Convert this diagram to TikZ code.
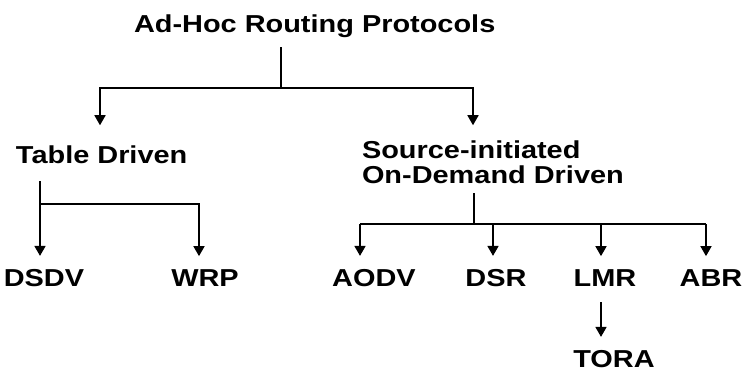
\documentclass[tikz,border=0pt]{standalone}
\usepackage{fontspec}
\setmainfont[FakeStretch=1.18]{Liberation Sans}
\usetikzlibrary{arrows.meta}
\begin{document}
\begin{tikzpicture}[x=1pt,y=-1pt,
  lbl/.style={inner sep=0pt,outer sep=0pt,font=\fontsize{24.5}{25}\selectfont\bfseries},
  ln/.style={line width=1.6pt,black},
  arr/.style={ln,-{Triangle[length=10pt,width=11pt]}}]
\useasboundingbox[fill=white] (0,0) rectangle (744,372);
% nodes
\node[lbl,anchor=base west] (title) at (134,32) {Ad-Hoc Routing Protocols};
\node[lbl,anchor=base west] (td) at (16,163) {Table Driven};
\node[lbl,anchor=base west] (src) at (362,158) {\vtop{\baselineskip=25pt\hbox{Source-initiated}\hbox{On-Demand Driven}}};
\node[lbl,anchor=base] (dsdv) at (44,286) {DSDV};
\node[lbl,anchor=base] (wrp) at (205,286) {WRP};
\node[lbl,anchor=base] (aodv) at (374,286) {AODV};
\node[lbl,anchor=base] (dsr) at (496,286) {DSR};
\node[lbl,anchor=base] (lmr) at (605,286) {LMR};
\node[lbl,anchor=base] (abr) at (711,286) {ABR};
\node[lbl,anchor=base] (tora) at (614,367) {TORA};
% junctions
\coordinate (j1) at (281,88);
\coordinate (ta) at (100,88);
\coordinate (sa) at (473,88);
\coordinate (j2) at (40,204);
\coordinate (b2) at (199,204);
\coordinate (j3) at (474,224);
\coordinate (c1) at (360,224);
\coordinate (c2) at (493,224);
\coordinate (c3) at (601,224);
\coordinate (c4) at (706,224);
% connectors
\draw[ln] ([yshift=-10pt]title.south -| j1) -- (j1);
\draw[arr] (j1) -- (ta) -- ([yshift=20pt]td.north -| ta);
\draw[arr] (j1) -- (sa) -- ([yshift=15pt]src.north -| sa);
\draw[ln] ([yshift=-18pt]td.south -| j2) -- (j2);
\draw[arr] (j2) -- ([yshift=13pt]dsdv.north -| j2);
\draw[arr] (j2) -- (b2) -- ([yshift=13pt]wrp.north -| b2);
\draw[ln] ([yshift=-10pt]src.south -| j3) -- (j3);
\draw[ln] (c1) -- (c4);
\draw[arr] (c1) -- ([yshift=13pt]aodv.north -| c1);
\draw[arr] (c2) -- ([yshift=13pt]dsr.north -| c2);
\draw[arr] (c3) -- ([yshift=13pt]lmr.north -| c3);
\draw[arr] (c4) -- ([yshift=13pt]abr.north -| c4);
\draw[arr] ([yshift=-16pt]lmr.south -| c3) -- ([yshift=13pt]tora.north -| c3);
\end{tikzpicture}
\end{document}
